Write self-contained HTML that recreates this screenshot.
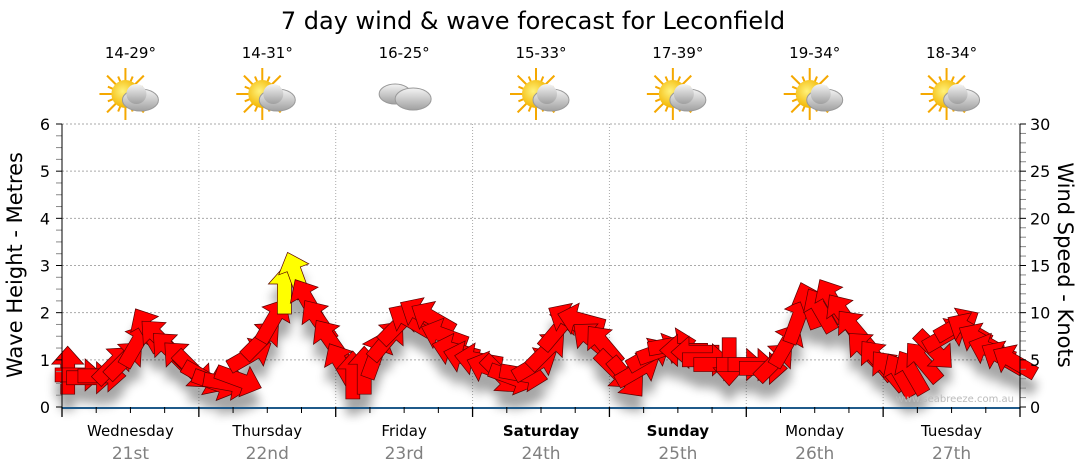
<!DOCTYPE html>
<html><head><meta charset="utf-8"><style>
body{margin:0;background:#fff;width:1080px;height:475px;overflow:hidden;font-family:"DejaVu Sans","Liberation Sans",sans-serif}
svg{display:block}
</style></head><body>
<svg id="chart" width="1080" height="475" xmlns="http://www.w3.org/2000/svg">
<defs>
<filter id="sh" x="-50%" y="-50%" width="200%" height="200%"><feGaussianBlur stdDeviation="5"/></filter>
<radialGradient id="sunG" cx="0.4" cy="0.4" r="0.6"><stop offset="0" stop-color="#fff27a"/><stop offset="1" stop-color="#f2b400"/></radialGradient>
<linearGradient id="cloudG" x1="0" y1="0" x2="0" y2="1"><stop offset="0" stop-color="#f4f4f4"/><stop offset="1" stop-color="#a0a0a0"/></linearGradient>
</defs>
<text x="533" y="29" text-anchor="middle" font-size="24" fill="#000">7 day wind &amp; wave forecast for Leconfield</text>
<g id="grid"></g>
<g id="shadows" filter="url(#sh)" opacity="0.35"></g>
<g id="arrows"></g>
<g id="axes"></g>
<text x="1014" y="402" text-anchor="end" font-size="10" fill="#bbb">www.seabreeze.com.au</text>
<text transform="translate(22,265) rotate(-90)" text-anchor="middle" font-size="21" fill="#000">Wave Height - Metres</text>
<text transform="translate(1058,265) rotate(90)" text-anchor="middle" font-size="21" fill="#000">Wind Speed - Knots</text>
</svg>
<script>
const days = ["Wednesday","Thursday","Friday","Saturday","Sunday","Monday","Tuesday"];
const dates = ["21st","22nd","23rd","24th","25th","26th","27th"];
const boldDays = [false,false,false,true,true,false,false];
const temps = ["14-29°","14-31°","16-25°","15-33°","17-39°","19-34°","18-34°"];
const icons = ["suncloud","suncloud","cloud","suncloud","suncloud","suncloud","suncloud"];
const waveTicks = [0,1,2,3,4,5,6];
const windTicks = [0,5,10,15,20,25,30];
const windSpeed = [
3.9,3.4,3.1,3.3,4.5,5.0,6.6,8.2,7.3,6.0,5.0,3.9,
3.1,2.5,2.5,2.9,5.5,7.1,9.2,12.4,14.0,11.3,9.2,7.1,
4.5,3.4,3.9,5.5,7.1,8.7,9.2,9.8,9.4,7.6,6.0,5.2,
5.0,4.1,3.4,3.1,3.4,4.5,6.0,8.2,9.2,9.2,7.1,6.6,
3.9,3.1,3.9,5.5,6.0,6.6,6.0,5.8,5.0,4.5,4.8,4.5,
4.5,4.1,4.8,6.6,9.2,10.8,10.3,11.3,9.8,8.2,6.0,5.0,
3.9,3.4,3.7,4.8,6.0,7.6,8.7,8.2,7.1,6.0,5.2,4.8];
const windHeading = [
0,90,90,90,45,45,30,330,315,315,315,135,
120,110,100,110,60,45,30,0,340,330,325,325,
330,0,0,20,40,45,300,300,300,290,285,285,
280,290,135,110,100,60,45,40,300,285,310,320,
135,140,60,60,70,80,270,270,90,90,180,90,
90,90,45,30,20,340,330,330,325,320,315,320,
320,330,330,320,135,60,60,300,300,290,300,300];

const X0=62,X1=1020,Y0=407,Y1=124;
const NS="http://www.w3.org/2000/svg";
const dayW=(X1-X0)/7;
const xt=i=>X0+(i+0.5)*(X1-X0)/windSpeed.length;
const yWave=v=>Y0-(v/6)*(Y0-Y1);
const yWind=k=>Y0-(k/30)*(Y0-Y1);
function el(t,a,p){const e=document.createElementNS(NS,t);for(const k in a)e.setAttribute(k,a[k]);p.appendChild(e);return e;}
const grid=document.getElementById('grid'),axes=document.getElementById('axes'),svg=document.getElementById('chart');

waveTicks.forEach(v=>{
  if(v>0){const g=el('line',{x1:X0,x2:X1,y1:yWave(v),y2:yWave(v),stroke:'#aaa','stroke-dasharray':'2,2'},grid);
  
  }
  const t=el('text',{x:50,y:yWave(v)+6,'text-anchor':'end','font-size':16,fill:'#000'},axes);t.textContent=v;
  
  
  el('line',{x1:X0-6,x2:X0,y1:yWave(v),y2:yWave(v),stroke:'#000'},axes);
  if(v<6)for(let m=1;m<4;m++)el('line',{x1:X0-6,x2:X0,y1:yWave(v+m/4),y2:yWave(v+m/4),stroke:'#888'},axes);
});
windTicks.forEach(k=>{
  const t=el('text',{x:1030,y:yWind(k)+6,'font-size':16,fill:'#000'},axes);t.textContent=k;
  
  
  el('line',{x1:X1,x2:X1+6,y1:yWind(k),y2:yWind(k),stroke:'#000'},axes);
  if(k<30)for(let m=1;m<5;m++)el('line',{x1:X1,x2:X1+6,y1:yWind(k+m),y2:yWind(k+m),stroke:'#888'},axes);
});
el('line',{x1:X0,x2:X0,y1:Y1,y2:Y0,stroke:'#000'},axes);
el('line',{x1:X1,x2:X1,y1:Y1,y2:Y0,stroke:'#000'},axes);
el('line',{x1:X0,x2:X1,y1:Y0+1,y2:Y0+1,stroke:'#1f5a8a','stroke-width':2},axes);
for(let d=0;d<=7;d++){
  const x=X0+d*dayW;
  if(d>0&&d<7){const g=el('line',{x1:x,x2:x,y1:Y1,y2:Y0,stroke:'#aaa','stroke-dasharray':'1,2'},grid);
  
  }
  el('line',{x1:x,x2:x,y1:Y0,y2:Y0+10,stroke:'#000','stroke-width':1.3},axes);
  if(d<7)for(let q=1;q<4;q++)el('line',{x1:x+q*dayW/4,x2:x+q*dayW/4,y1:Y0,y2:Y0+6,stroke:'#000'},axes);
}
days.forEach((d,i)=>{
  const cx=X0+(i+0.5)*dayW;
  const t=el('text',{x:cx,y:436,'text-anchor':'middle','font-size':15,fill:'#000','font-weight':boldDays[i]?'bold':'normal'},axes);t.textContent=d;
  
  
  const t2=el('text',{x:cx,y:459,'text-anchor':'middle','font-size':17,fill:'#808080'},axes);t2.textContent=dates[i];
  
  
  const t3=el('text',{x:cx,y:58,'text-anchor':'middle','font-size':15,fill:'#000'},svg);t3.textContent=temps[i];
  
  
  const g=el('g',{transform:`translate(${cx},97)`},svg);
  
  
  if(icons[i]==='suncloud'){
    for(let r=0;r<16;r++){const a=r*Math.PI/8;const L=r%2?19:26;el('line',{x1:-5+Math.cos(a)*12,y1:-3+Math.sin(a)*12,x2:-5+Math.cos(a)*L,y2:-3+Math.sin(a)*L,stroke:'#f5a800','stroke-width':2},g);}
    el('circle',{cx:-5,cy:-3,r:14,fill:'url(#sunG)'},g);
    el('ellipse',{cx:10,cy:3,rx:18,ry:11,fill:'url(#cloudG)',stroke:'#999'},g);
    el('circle',{cx:6,cy:-3,r:10,fill:'url(#cloudG)'},g);
  } else {
    el('ellipse',{cx:-9,cy:-3,rx:16,ry:10,fill:'url(#cloudG)',stroke:'#999'},g);
    el('ellipse',{cx:9,cy:2,rx:18,ry:11,fill:'url(#cloudG)',stroke:'#999'},g);
  }
});
const arrows=document.getElementById('arrows'),shadows=document.getElementById('shadows');
const shape="M0,-24 L16,-6 L7,-6 L7,24 L-7,24 L-7,-6 L-16,-6 Z";
windSpeed.forEach((k,i)=>{
  const x=xt(i),y=yWind(k);
  el('path',{d:shape,transform:`translate(${x},${y+16}) rotate(${windHeading[i]})`,fill:'#000'},shadows);
  const p=el('path',{d:shape,transform:`translate(${x},${y}) rotate(${windHeading[i]})`,fill:k>=12?'#ffff00':'#ff0000',stroke:'#5a0000','stroke-width':0.7},arrows);
  
  
});
</script>
</body></html>
